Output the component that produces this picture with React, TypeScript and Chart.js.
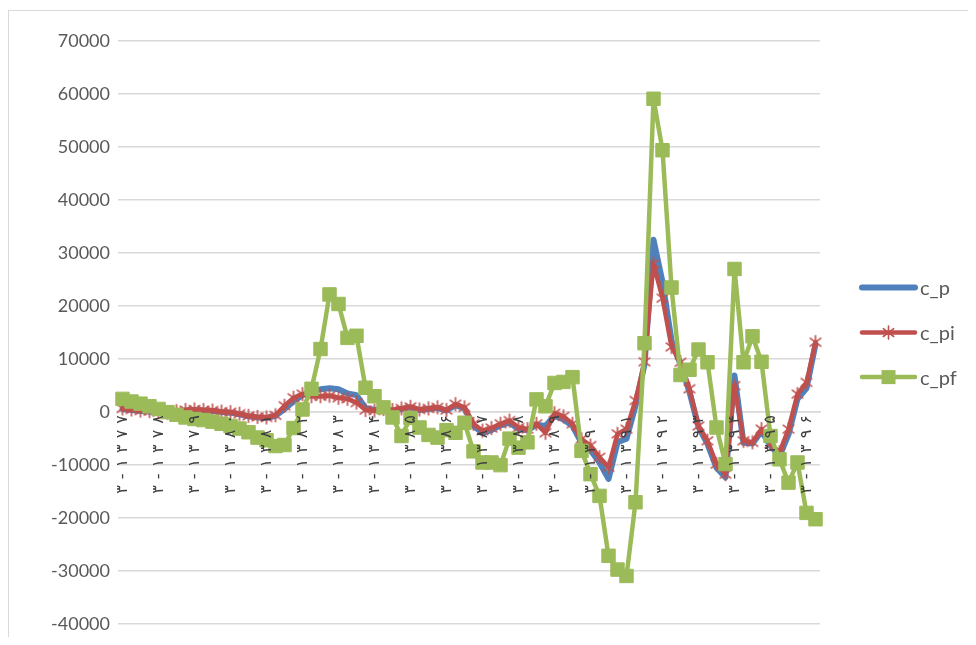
import React, { useEffect, useRef } from 'react';
import { Chart, registerables } from 'chart.js';

Chart.register(...registerables);

const categories = [
  '۳-۱۳۷۷', '۴-۱۳۷۷',
  '۱-۱۳۷۸', '۲-۱۳۷۸', '۳-۱۳۷۸', '۴-۱۳۷۸',
  '۱-۱۳۷۹', '۲-۱۳۷۹', '۳-۱۳۷۹', '۴-۱۳۷۹',
  '۱-۱۳۸۰', '۲-۱۳۸۰', '۳-۱۳۸۰', '۴-۱۳۸۰',
  '۱-۱۳۸۱', '۲-۱۳۸۱', '۳-۱۳۸۱', '۴-۱۳۸۱',
  '۱-۱۳۸۲', '۲-۱۳۸۲', '۳-۱۳۸۲', '۴-۱۳۸۲',
  '۱-۱۳۸۳', '۲-۱۳۸۳', '۳-۱۳۸۳', '۴-۱۳۸۳',
  '۱-۱۳۸۴', '۲-۱۳۸۴', '۳-۱۳۸۴', '۴-۱۳۸۴',
  '۱-۱۳۸۵', '۲-۱۳۸۵', '۳-۱۳۸۵', '۴-۱۳۸۵',
  '۱-۱۳۸۶', '۲-۱۳۸۶', '۳-۱۳۸۶', '۴-۱۳۸۶',
  '۱-۱۳۸۷', '۲-۱۳۸۷', '۳-۱۳۸۷', '۴-۱۳۸۷',
  '۱-۱۳۸۸', '۲-۱۳۸۸', '۳-۱۳۸۸', '۴-۱۳۸۸',
  '۱-۱۳۸۹', '۲-۱۳۸۹', '۳-۱۳۸۹', '۴-۱۳۸۹',
  '۱-۱۳۹۰', '۲-۱۳۹۰', '۳-۱۳۹۰', '۴-۱۳۹۰',
  '۱-۱۳۹۱', '۲-۱۳۹۱', '۳-۱۳۹۱', '۴-۱۳۹۱',
  '۱-۱۳۹۲', '۲-۱۳۹۲', '۳-۱۳۹۲', '۴-۱۳۹۲',
  '۱-۱۳۹۳', '۲-۱۳۹۳', '۳-۱۳۹۳', '۴-۱۳۹۳',
  '۱-۱۳۹۴', '۲-۱۳۹۴', '۳-۱۳۹۴', '۴-۱۳۹۴',
  '۱-۱۳۹۵', '۲-۱۳۹۵', '۳-۱۳۹۵', '۴-۱۳۹۵',
  '۱-۱۳۹۶', '۲-۱۳۹۶', '۳-۱۳۹۶', '۴-۱۳۹۶',
];

const cP = [
  600, 400, 200, 100, -100, -200, 100, 300, 400, 300,
  200, 0, -100, -400, -800, -1000, -1100, -700, 600, 2000,
  3200, 3900, 4300, 4500, 4300, 3500, 3200, 800, 400, 500,
  300, 600, 900, 400, 600, 800, 300, 1300, 700, -2600,
  -3900, -3400, -2500, -2000, -3200, -3400, -2400, -2600, -700, -1400,
  -2600, -5800, -7200, -9500, -12600, -5700, -5000, 1200, 9000, 32500,
  24500, 13500, 9000, 3800, -2800, -6000, -10500, -12300, 6900, -5800,
  -5900, -3600, -6300, -8300, -4200, 2500, 4500, 12800,
];

const cPi = [
  700, 500, 300, 200, 0, -100, 200, 400, 500, 400,
  300, 100, 0, -300, -700, -900, -1000, -600, 1200, 2700,
  3400, 3000, 3000, 3100, 2700, 2500, 1800, 400, 300, 600,
  400, 700, 1000, 500, 700, 900, 400, 1500, 900, -2200,
  -3500, -3000, -2200, -1600, -2900, -3200, -2200, -3900, -200, -800,
  -2200, -5100, -6300, -8500, -10400, -4100, -3200, 2200, 9500, 28000,
  21500, 12300, 9400, 4400, -2600, -5400, -9800, -11700, 5000, -5400,
  -5700, -3200, -6000, -7600, -3200, 3400, 5600, 13200,
];

const cPf = [
  2500, 2000, 1600, 1100, 600, 0, -500, -1000, -1300, -1500,
  -1800, -2200, -2600, -3100, -3800, -4800, -5300, -6400, -6200, -3000,
  500, 4400, 11900, 22200, 20400, 14000, 14400, 4600, 3000, 900,
  -1000, -4500, -1100, -2900, -4300, -4800, -3400, -3900, -2000, -7400,
  -9500, -9500, -10000, -5000, -6700, -5700, 2400, 1100, 5500, 5700,
  6600, -7300, -11700, -15800, -27100, -29700, -30900, -17000, 13000, 59100,
  49400, 23500, 7000, 8000, 11800, 9400, -2900, -9800, 27000, 9400,
  14300, 9500, -4500, -8900, -13300, -9500, -19000, -20200,
];

const seriesNames = ['c_p', 'c_pi', 'c_pf'];
const seriesColors = ['#4F81BD', '#C0504D', '#9BBB59'];
const seriesWidths = [6, 4.5, 4.5];

const yMin = -40000;
const yMax = 70000;
const yStep = 10000;
const labelEvery = 4;

const textColor = '#595959';
const gridColor = '#d9d9d9';

function drawStar(ctx: CanvasRenderingContext2D, x: number, y: number, r: number) {
  ctx.beginPath();
  ctx.moveTo(x, y - r);
  ctx.lineTo(x, y + r);
  const d = r * 0.8;
  ctx.moveTo(x - d, y - d * 0.75);
  ctx.lineTo(x + d, y + d * 0.75);
  ctx.moveTo(x - d, y + d * 0.75);
  ctx.lineTo(x + d, y - d * 0.75);
  ctx.stroke();
}

function makeStarImage(color: string) {
  const c = document.createElement('canvas');
  c.width = 16;
  c.height = 16;
  const g = c.getContext('2d')!;
  g.strokeStyle = color;
  g.lineWidth = 1.6;
  g.lineCap = 'round';
  drawStar(g, 8, 8, 6.5);
  return c;
}

const excelLegend = {
  id: 'excelLegend',
  afterDraw(chart: any) {
    const { ctx, chartArea } = chart;
    const mid = (chartArea.top + chartArea.bottom) / 2;
    const rows = [mid - 45, mid, mid + 44.5];
    const x0 = chartArea.right + 42;
    const x1 = chartArea.right + 95;
    ctx.save();
    seriesNames.forEach((name, k) => {
      const y = rows[k];
      ctx.strokeStyle = seriesColors[k];
      ctx.lineWidth = seriesWidths[k];
      ctx.lineCap = 'round';
      ctx.beginPath();
      ctx.moveTo(x0, y);
      ctx.lineTo(x1, y);
      ctx.stroke();
      const cx = (x0 + x1) / 2;
      if (k === 1) {
        ctx.lineWidth = 1.6;
        drawStar(ctx, cx, y, 6.5);
      } else if (k === 2) {
        ctx.fillStyle = seriesColors[k];
        ctx.fillRect(cx - 7, y - 7, 14, 14);
      }
      ctx.fillStyle = textColor;
      ctx.font = '20px Lato';
      ctx.textAlign = 'left';
      ctx.textBaseline = 'middle';
      ctx.fillText(name, x1 + 5, y + 1);
    });
    ctx.restore();
  },
};

const charSpacing = 6;

const categoryLabels = {
  id: 'categoryLabels',
  afterDatasetsDraw(chart: any) {
    const { ctx } = chart;
    const xs = chart.scales.x;
    const y0 = chart.scales.y.getPixelForValue(0);
    ctx.save();
    ctx.fillStyle = '#404040';
    ctx.font = '16px "DejaVu Sans"';
    ctx.textAlign = 'left';
    ctx.textBaseline = 'middle';
    categories.forEach((lab, i) => {
      if (i % labelEvery !== 0) return;
      const chars = Array.from(lab);
      const widths = chars.map((c) => ctx.measureText(c).width);
      const total = widths.reduce((a, b) => a + b, 0) + charSpacing * (chars.length - 1);
      const x = xs.getPixelForValue(i);
      ctx.save();
      ctx.translate(x, y0 + 3);
      ctx.rotate(-Math.PI / 2);
      let cur = -total;
      chars.forEach((c, k) => {
        ctx.fillText(c, cur, 0);
        cur += widths[k] + charSpacing;
      });
      ctx.restore();
    });
    ctx.restore();
  },
};

export default function App() {
  const ref = useRef<HTMLCanvasElement | null>(null);

  useEffect(() => {
    if (!ref.current) return;
    const star = makeStarImage(seriesColors[1]);
    const chart = new Chart(ref.current, {
      type: 'line',
      data: {
        labels: categories,
        datasets: [
          {
            label: seriesNames[0],
            data: cP,
            borderColor: seriesColors[0],
            backgroundColor: seriesColors[0],
            borderWidth: seriesWidths[0],
            pointRadius: 0,
            borderJoinStyle: 'round',
            borderCapStyle: 'round',
            tension: 0,
            order: 3,
          },
          {
            label: seriesNames[1],
            data: cPi,
            borderColor: seriesColors[1],
            backgroundColor: seriesColors[1],
            borderWidth: seriesWidths[1],
            pointStyle: star as any,
            pointRadius: 7,
            borderJoinStyle: 'round',
            borderCapStyle: 'round',
            tension: 0,
            order: 2,
          },
          {
            label: seriesNames[2],
            data: cPf,
            borderColor: seriesColors[2],
            backgroundColor: seriesColors[2],
            borderWidth: seriesWidths[2],
            pointStyle: 'rect',
            pointRadius: 9.5,
            pointBorderWidth: 1,
            pointBackgroundColor: seriesColors[2],
            pointBorderColor: seriesColors[2],
            borderJoinStyle: 'round',
            borderCapStyle: 'round',
            tension: 0,
            order: 1,
          },
        ],
      },
      options: {
        animation: false,
        responsive: true,
        maintainAspectRatio: false,
        layout: { padding: { top: 30, bottom: 8, left: 9, right: 155 } },
        plugins: {
          legend: { display: false },
          tooltip: { enabled: false },
        },
        scales: {
          x: {
            type: 'category',
            position: { y: 0 } as any,
            offset: true,
            grid: { display: false, drawTicks: false },
            border: { display: true, color: gridColor, width: 1.5 },
            ticks: { display: false, autoSkip: false },
          },
          y: {
            min: yMin,
            max: yMax,
            afterFit: (s: any) => {
              s.width = 100;
            },
            grid: { color: gridColor, lineWidth: 1.5, drawTicks: false },
            border: { display: false },
            ticks: {
              stepSize: yStep,
              padding: 8,
              color: textColor,
              font: { family: 'Lato', size: 18 },
              callback: (v: any) => String(v),
            },
          },
        },
      },
      plugins: [categoryLabels, excelLegend],
    });
    return () => chart.destroy();
  }, []);

  return (
    <div style={{ width: 960, height: 629, overflow: 'hidden' }}>
      <div
        style={{
          marginTop: 2,
          width: 966,
          height: 632,
          borderLeft: '1px solid #d9d9d9',
          borderTop: '1px solid #d9d9d9',
          position: 'relative',
        }}
      >
        <canvas ref={ref} />
      </div>
    </div>
  );
}
